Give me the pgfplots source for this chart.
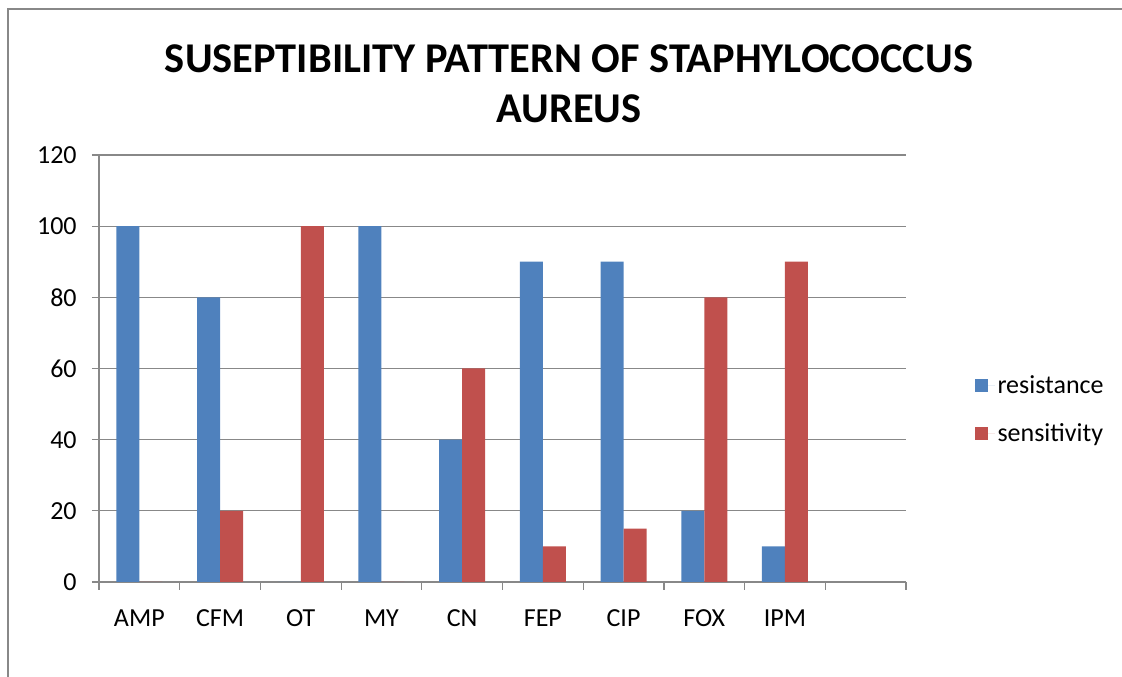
\documentclass[border=0pt]{standalone}
\usepackage{pgfplots}
\pgfplotsset{compat=1.18}
\usepackage{fontspec}
\setmainfont{Carlito}
\definecolor{resblue}{HTML}{4F81BD}
\definecolor{senred}{HTML}{C0504D}
\definecolor{axgray}{HTML}{888888}
\begin{document}
\begin{tikzpicture}
\path[use as bounding box] (0,0) rectangle (841.5pt,507.75pt);
\draw[axgray, line width=1.1pt] (6pt,0) -- (6pt,501pt) -- (841.5pt,501pt);
\node[font=\fontsize{31.8}{37.5}\bfseries\selectfont, align=center] at (426.75pt,445pt)
  {SUSEPTIBILITY PATTERN OF STAPHYLOCOCCUS\\AUREUS};
\begin{axis}[
  at={(74.25pt,71.25pt)}, anchor=south west,
  scale only axis, width=605.25pt, height=320.25pt,
  xmin=-0.5, xmax=9.5, ymin=0, ymax=120,
  ytick={0,20,...,120},
  xtick={0,...,8},
  xticklabels={AMP,CFM,OT,MY,CN,FEP,CIP,FOX,IPM},
  minor xtick={-0.5,0.5,...,9.5},
  axis x line*=bottom, axis y line*=left,
  axis line style={axgray, line width=0.9pt},
  ymajorgrids, major grid style={axgray, line width=0.9pt},
  tick align=outside,
  major x tick style={draw=none},
  minor x tick style={axgray, line width=0.9pt},
  major y tick style={axgray, line width=0.9pt},
  major tick length=5.25pt, minor tick length=6pt,
  /pgf/number format/assume math mode=true,
  tick label style={font=\fontsize{19.5}{22}\selectfont, black},
  xticklabel style={yshift=-12pt},
  yticklabel style={xshift=-8pt},
  ybar, bar width=0.285,
  legend style={draw=none, at={(1.08,0.404)}, anchor=west, font=\fontsize{19.5}{22}\selectfont, row sep=17.5pt},
  legend cell align=left,
  legend image code/.code={\fill[#1] (0pt,-4.9pt) rectangle (9.75pt,4.9pt); \path (0pt,0pt) -- (15pt,0pt);},
]
\addplot[fill=resblue, draw=none, bar shift=-0.1425] coordinates {
 (0,100) (1,80) (2,0) (3,100) (4,40) (5,90) (6,90) (7,20) (8,10)};
\addplot[fill=senred, draw=none, bar shift=0.1425] coordinates {
 (0,0) (1,20) (2,100) (3,0) (4,60) (5,10) (6,15) (7,80) (8,90)};
\legend{resistance, sensitivity}
\end{axis}
\end{tikzpicture}
\end{document}
